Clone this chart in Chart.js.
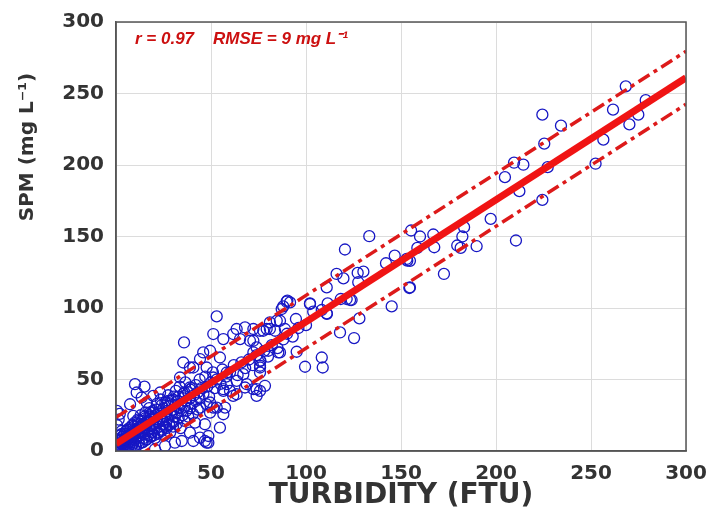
<!DOCTYPE html>
<html>
<head>
<meta charset="utf-8">
<script src="https://cdn.jsdelivr.net/npm/chart.js@4.4.1/dist/chart.umd.min.js"></script>
<style>
  html, body { margin: 0; padding: 0; background: #fff; }
  canvas { display: block; }
</style>
</head>
<body>
<canvas id="chart" width="711" height="517"></canvas>
<script>
// scatter points (turbidity FTU vs SPM mg/L)
const turbidity = [
  0.3, 0.8, 1.2, 0.4, 1, 1.8, 2.2, 3, 0.6, 1.4, 2, 0.5,
  0.5, 1, 1.5, 2, 2, 2.5, 3, 3, 3.5, 4, 4, 4.5, 5, 5, 5, 5.5, 6, 6, 6.5, 7, 7, 7, 7.5, 8, 8, 8.5,
  9, 9, 9.5, 10, 10, 10, 10.5, 11, 11, 11.5, 12, 12, 12.5, 13, 13, 13.5, 14, 14, 14.5, 15, 15, 15.5,
  16, 16, 16.5, 17, 17, 17.5, 18, 18, 18.5, 19, 19, 19.5, 20, 20, 20.5, 21, 21, 21.5, 22, 22, 22.5,
  23, 23, 23.5, 24, 24, 24.5, 25, 25, 25.5, 26, 26, 26.5, 27, 27, 27.5, 28, 28, 28.5, 29, 29, 29.5,
  30, 30, 30.5, 31, 31, 31.5, 32, 32, 32.5, 33, 33, 33.5, 34, 34, 34.5, 35, 35, 35.5, 36, 36, 36.5,
  37, 37, 38, 38, 39, 39, 40, 40, 40.5, 41, 42, 42, 43, 43, 44, 44, 45, 46, 47, 48, 49, 50, 51, 52,
  53, 55, 56, 58, 60, 62, 64, 66, 68, 70, 72, 74, 76, 78, 80, 82, 85, 88, 90, 93, 96, 100,
  1, 2, 3, 4, 5, 6, 7, 8, 9, 10, 11, 12, 13, 14, 15, 16, 17, 18, 19, 20,
  2, 4, 6, 8, 10, 12, 14, 16, 18, 20, 22, 24, 26, 28, 30,
  1.5, 3.5, 5.5, 7.5, 9.5, 11.5, 13.5, 15.5, 17.5, 19.5,
  3, 6, 9, 12, 15, 18, 21, 24, 27, 30, 33, 36, 39,
  10, 10.9, 13.5, 16.2, 7.4, 9.1, 19.6, 23.2, 27.5, 15,
  47.7, 49.5, 46.8, 44.2, 40.7, 47.7, 34.6, 31, 25.8, 20.5, 38.9, 41.6, 48.6, 46.8, 48.6, 44.2,
  49.5, 53, 57.4, 56.5, 54.7, 51.2, 78.4, 75.8, 74, 72.3, 68.8, 58.3, 56.5, 60, 61.7, 63.5, 75.8, 67,
  35.8, 35.4, 84.6, 81, 75.8, 67.9, 63.5, 61.7, 65.3, 70.5, 56.5, 51.2, 45.9, 49.5, 44.2, 54.7, 74,
  75.8, 74, 67.9, 56.5, 86.3, 33.7, 38.9, 38.9, 47.7, 51.2, 63.5, 58.3, 40.7, 53,
  90.2, 91.6, 88, 102.1, 111.4, 123.2, 103.8, 108.3, 110.9, 118.3, 94.7, 86.3, 81, 79.3, 77.5, 83.7,
  88.9, 72.3, 128.1, 117.9, 125.3, 95.1, 85.4, 80.2, 108.3, 99.5, 108.8, 75.8, 72.3, 72.3, 75.8,
  133.3, 120.5, 146.7, 142.1, 153.3, 127.2, 130.2, 116.1, 119.7, 127.5, 110.9, 154.4, 145.1, 121.4,
  124, 102.1, 89.8, 87.2, 111,
  268.3, 278.8, 261.6, 274.9, 270.2, 256.5, 252.4, 224.4, 234.2, 225.4, 227.2, 224.4, 209.5, 214.4,
  204.7, 212.3, 210.5, 197.2, 189.8, 181.4, 179.6, 182.3, 183.2, 167.5, 167, 160, 158.6, 155.3, 153,
  154.7, 172.6, 154.7
];
const spm = [
  0.5, 1.5, 3, 5, 8, 0.5, 11, 14, 18, 22, 26, 28,
  2, 4, 1, 6, 3, 8, 2, 5, 10, 4, 7, 12, 3, 6, 9, 14, 5, 8, 11, 4, 9, 16, 7, 12, 6, 18,
  10, 5, 14, 8, 12, 20, 3, 15, 10, 22, 7, 13, 17, 11, 25, 6, 14, 19, 9, 16, 12, 27,
  18, 8, 14, 21, 11, 30, 16, 24, 10, 19, 13, 28, 22, 15, 9, 25, 18, 33, 20, 12, 27,
  17, 23, 36, 14, 26, 21, 30, 19, 11, 24, 34, 16, 28, 22, 39, 19, 31, 13, 26, 35, 21,
  29, 17, 38, 24, 32, 42, 27, 19, 35, 30, 23, 45, 33, 16, 28, 37, 25, 40, 31, 21, 48,
  35, 28, 41, 24, 37, 30, 44, 33, 26, 39, 46, 35, 41, 29, 50, 37, 44, 40, 52, 45, 38, 48, 55, 44,
  50, 47, 57, 52, 55, 60, 53, 62, 58, 64, 60, 67, 63, 70, 66, 74, 72, 78, 82, 80, 86, 88,
  2, 3, 5, 6, 7, 9, 10, 11, 12, 13, 14, 16, 17, 18, 19, 20, 21, 22, 23, 24,
  0.5, 1, 2, 3, 4, 5, 6, 8, 10, 11, 13, 15, 17, 18, 20,
  7, 10, 12, 15, 17, 19, 21, 23, 25, 27,
  12, 15, 18, 21, 24, 27, 29, 32, 34, 36, 38, 41, 43,
  46.7, 40.9, 37.4, 33.9, 32.7, 24.5, 38.5, 40.9, 35, 45,
  32.7, 26.8, 18.7, 9.3, 7, 5.8, 7, 5.8, 3.5, 1.2, 12.8, 19.8, 10.5, 7, 5.8, 30.3,
  33.9, 30.3, 30.3, 25.7, 16.3, 30.3, 45.6, 42, 38.5, 43.2, 46.7, 46.7, 43.2, 42, 38.5, 39.7, 54.9, 53.7,
  75.9, 61.9, 91.1, 85.3, 84.1, 86.4, 85.3, 81.8, 78.3, 77.1, 78.3, 81.8, 68.9, 70.1, 64.3, 65.4, 72.4,
  59.6, 43.2, 44.4, 42, 68.9, 51.4, 44.4, 58.4, 58.4, 51.4, 49.1, 54.9, 58.4, 94.1,
  105.1, 103.9, 101.1, 102.8, 103.2, 105.6, 97.4, 98.6, 96.2, 106.3, 92.3, 91.1, 89.9, 85.3, 84.1, 84.1,
  85.3, 85.3, 92.7, 82.9, 79, 69.4, 68.9, 70.1, 65.4, 58.9, 58.4, 63.1, 68.9, 77.1, 58.4,
  150.2, 140.9, 136.6, 131.3, 133.1, 124.5, 125.4, 123.8, 120.7, 118, 114.4, 114, 101.1, 106.3,
  105.6, 103.2, 104.4, 99.3, 95.9,
  255, 245.3, 238.7, 235.2, 228.4, 217.7, 200.9, 235.2, 227.5, 214.9, 198.5, 175.6, 201.6, 200.2,
  191.5, 181.7, 147.2, 162.3, 143.2, 142, 143.7, 150, 156.5, 142.5, 151.4, 150, 142, 154.2, 134.3,
  133, 123.8, 114.4
];

// regression line and its +/- bounds
const fitX = [0, 300];
const fitY = [5, 261];
const upperY = [23.5, 279.5];
const lowerY = [-13.5, 242.5];

const xTicks = [0, 50, 100, 150, 200, 250, 300];
const yTicks = [0, 50, 100, 150, 200, 250, 300];

const statsText = 'r = 0.97    RMSE = 9 mg L\u207B\u00B9';
const yTitle = 'SPM (mg L\u207B\u00B9)';

const toPoints = (xs, ys) => xs.map((x, i) => ({ x: x, y: ys[i] }));

Chart.defaults.font.family = "'DejaVu Sans', sans-serif";

// box around the plot, y axis title and the r/RMSE note
const extras = {
  id: 'extras',
  afterDraw(chart) {
    const { ctx, chartArea: a } = chart;
    ctx.save();
    ctx.strokeStyle = '#555';
    ctx.lineWidth = 1.5;
    ctx.strokeRect(a.left, a.top, a.right - a.left, a.bottom - a.top);

    ctx.fillStyle = '#cc1010';
    ctx.font = "italic bold 17px 'Liberation Sans', Arial, sans-serif";
    ctx.textBaseline = 'middle';
    ctx.fillText(statsText, a.left + 19, a.top + 17);

    ctx.translate(28, 147);
    ctx.rotate(-Math.PI / 2);
    ctx.textAlign = 'center';
    ctx.fillStyle = '#333';
    ctx.font = "bold 20px 'DejaVu Sans', sans-serif";
    ctx.fillText(yTitle, 0, 0);
    ctx.restore();
  }
};

new Chart(document.getElementById('chart'), {
  type: 'scatter',
  data: {
    datasets: [
      {
        type: 'line',
        data: toPoints(fitX, fitY),
        borderColor: '#f01414',
        borderWidth: 7,
        pointRadius: 0,
        order: 0
      },
      {
        type: 'line',
        data: toPoints(fitX, upperY),
        borderColor: '#dd1a1a',
        borderWidth: 3.5,
        borderDash: [13, 5, 4, 5],
        pointRadius: 0,
        order: 0
      },
      {
        type: 'line',
        data: toPoints(fitX, lowerY),
        borderColor: '#dd1a1a',
        borderWidth: 3.5,
        borderDash: [13, 5, 4, 5],
        pointRadius: 0,
        order: 0
      },
      {
        data: toPoints(turbidity, spm),
        pointStyle: 'circle',
        pointRadius: 5.5,
        pointBorderWidth: 1.3,
        pointBorderColor: '#1717c4',
        pointBackgroundColor: 'rgba(0,0,0,0)',
        order: 1
      }
    ]
  },
  options: {
    responsive: false,
    animation: false,
    layout: { padding: { top: 22, right: 25, left: 0, bottom: 0 } },
    plugins: {
      legend: { display: false },
      tooltip: { enabled: false }
    },
    scales: {
      x: {
        type: 'linear',
        min: 0,
        max: 300,
        afterBuildTicks: (s) => { s.ticks = xTicks.map(v => ({ value: v })); },
        afterFit: (s) => { s.height = 66; s.paddingLeft = 0; s.paddingRight = 0; },
        grid: { color: '#dcdcdc', lineWidth: 1, drawTicks: false },
        border: { color: '#555', width: 1.5 },
        ticks: {
          padding: 11,
          maxRotation: 0,
          color: '#333',
          font: { size: 20, weight: 'bold' }
        },
        title: {
          display: true,
          text: 'TURBIDITY (FTU)',
          color: '#333',
          font: { size: 28, weight: 'bold' },
          padding: { top: 0, bottom: 4 }
        }
      },
      y: {
        type: 'linear',
        min: 0,
        max: 300,
        afterBuildTicks: (s) => { s.ticks = yTicks.map(v => ({ value: v })); },
        afterFit: (s) => { s.width = 116; s.paddingTop = 0; s.paddingBottom = 0; },
        grid: { color: '#dcdcdc', lineWidth: 1, drawTicks: false },
        border: { color: '#555', width: 1.5 },
        ticks: {
          padding: 12,
          color: '#333',
          font: { size: 20, weight: 'bold' }
        }
      }
    }
  },
  plugins: [extras]
});
</script>
</body>
</html>
